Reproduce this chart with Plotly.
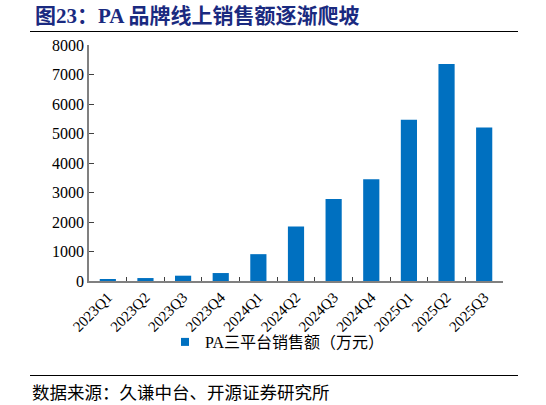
import plotly.graph_objects as go

# 数据
quarters = ["2023Q1", "2023Q2", "2023Q3", "2023Q4", "2024Q1", "2024Q2",
            "2024Q3", "2024Q4", "2025Q1", "2025Q2", "2025Q3"]
sales = [40, 100, 180, 270, 910, 1850, 2780, 3450, 5470, 7360, 5200]
series_name = "PA三平台销售额（万元）"
y_ticks = [0, 1000, 2000, 3000, 4000, 5000, 6000, 7000, 8000]

title_text = "图23：PA 品牌线上销售额逐渐爬坡"
source_text = "数据来源：久谦中台、开源证券研究所"

BLUE = "#0070C0"
SERIF = "Liberation Serif, Times New Roman, serif"
CJK = "Liberation Serif, Noto Sans CJK SC, serif"

# 绘图区像素位置（用于换算 paper 坐标）
L, R, T, B = 89, 503, 45, 281
W, H = 546, 405


def px_x(x):
    return (x - L) / (R - L)


def px_y(y):
    return (B - y) / (B - T)


fig = go.Figure()

fig.add_trace(go.Bar(
    x=quarters,
    y=sales,
    marker=dict(color=BLUE, line=dict(width=0)),
    width=0.43,
    showlegend=False,
))

# 图例用的小方块
fig.add_trace(go.Scatter(
    x=[None], y=[None],
    mode="markers",
    marker=dict(symbol="square", size=8, color=BLUE),
    name=series_name,
    showlegend=True,
))

fig.update_layout(
    width=W,
    height=H,
    margin=dict(l=L, r=W - R, t=T, b=H - B),
    plot_bgcolor="white",
    paper_bgcolor="white",
    font=dict(family=SERIF, size=13, color="#000000"),
    showlegend=True,
    legend=dict(
        orientation="h",
        xref="container", yref="container",
        x=165 / W, xanchor="left",
        y=1 - 342 / H, yanchor="middle",
        font=dict(family=CJK, size=16, color="#000000"),
        itemwidth=30,
        tracegroupgap=0,
        bgcolor="rgba(0,0,0,0)",
    ),
    xaxis=dict(
        type="category",
        automargin=False,
        tickangle=-45,
        ticks="inside",
        tickson="boundaries",
        ticklen=4,
        tickcolor="#404040",
        showline=True,
        linecolor="#808080",
        linewidth=1.5,
        showgrid=False,
        tickfont=dict(family=SERIF, size=15),
    ),
    yaxis=dict(
        automargin=False,
        range=[0, 8000],
        tickvals=y_ticks,
        ticks="inside",
        ticklen=5,
        tickcolor="#404040",
        showline=True,
        linecolor="#808080",
        linewidth=1.5,
        showgrid=False,
        zeroline=False,
        tickfont=dict(family=SERIF, size=16),
    ),
    bargap=0.57,
)

# 标题、标题下横线、数据来源及其上横线
fig.add_annotation(
    text="<b>" + title_text + "</b>",
    xref="paper", yref="paper",
    x=px_x(33), y=px_y(16),
    xanchor="left", yanchor="middle",
    showarrow=False,
    font=dict(family="Liberation Serif, Noto Sans CJK SC, serif", size=21, color="#1A2A80"),
)
fig.add_shape(
    type="line", xref="paper", yref="paper",
    x0=px_x(30), x1=px_x(518), y0=px_y(31.5), y1=px_y(31.5),
    line=dict(color="#000000", width=1.2),
)
fig.add_shape(
    type="line", xref="paper", yref="paper",
    x0=px_x(30), x1=px_x(518), y0=px_y(375.5), y1=px_y(375.5),
    line=dict(color="#000000", width=1.2),
)
fig.add_annotation(
    text=source_text,
    xref="paper", yref="paper",
    x=px_x(30), y=px_y(393),
    xanchor="left", yanchor="middle",
    showarrow=False,
    font=dict(family=CJK, size=17.5, color="#000000"),
)

# 去掉页面默认的 8px 边距，让图正好贴住窗口
fig.write_html(
    "out.html",
    config={"displayModeBar": False},
    post_script="document.body.style.margin='0px';",
)
